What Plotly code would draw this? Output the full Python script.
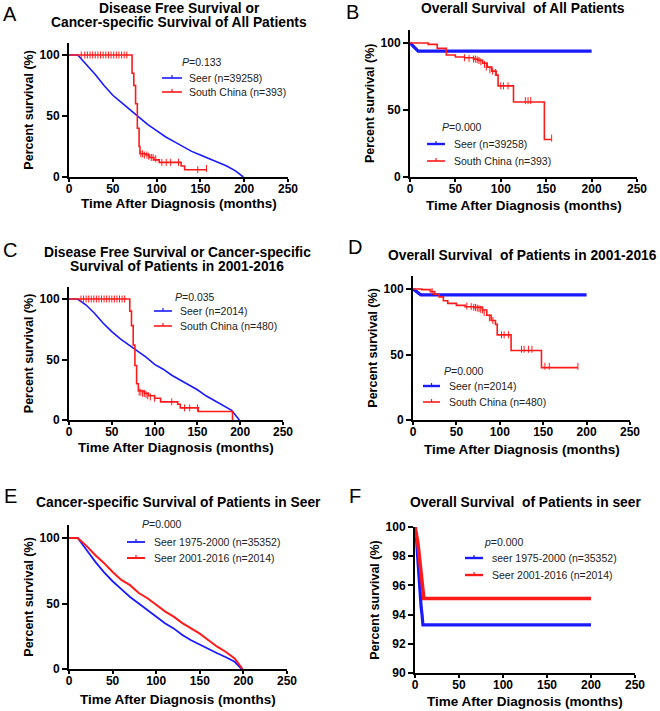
import plotly.graph_objects as go

W, H = 660, 711
BLUE = "#1a1aff"
RED = "#ff1a1a"
FONT = "Liberation Sans, Arial, sans-serif"

# ---------------- data (months, percent survival) ----------------
# Panel A
a_seer_t = [0, 10, 20, 30, 40, 50, 60, 70, 80, 90, 100, 110, 120, 130, 140, 150, 160, 170, 180, 190, 199]
a_seer_s = [100, 100, 92, 84, 75, 67, 61, 55, 49, 43, 38, 33, 29, 25, 21, 18, 15, 12, 9, 5, 0]
a_sc_t = [0, 70, 72, 74, 76, 78, 80, 81, 88, 92, 97, 103, 126, 128, 132, 157]
a_sc_s = [100, 100, 85, 75, 60, 40, 25, 19, 18, 16, 14, 12, 12, 9, 6, 6]
a_cens_t = [14, 18, 21, 24, 27, 30, 33, 36, 39, 42, 45, 48, 51, 54, 57, 60, 63, 66,
            82, 84, 86, 89, 91, 94, 96, 99, 106, 111, 116, 125, 147, 157]
a_cens_s = [100] * 18 + [19, 19, 18, 18, 17, 16, 16, 15, 12, 12, 12, 12, 6, 7]

# Panel B
b_seer_t = [0, 9, 200]
b_seer_s = [100, 94, 94]
b_sc_t = [0, 10, 20, 30, 40, 50, 60, 70, 75, 80, 85, 90, 95, 97, 113, 114, 147, 148, 156]
b_sc_s = [100, 100, 99, 96, 91, 89.5, 89, 88, 87, 85, 82, 79, 76, 68, 68, 56, 56, 28, 28]
b_cens_t = [60, 65, 70, 72, 74, 76, 78, 82, 84, 88, 91, 94, 100, 103, 108, 127, 130, 133, 156]
b_cens_s = [89, 88.5, 88, 88, 87.5, 87, 86, 84, 82, 80, 79, 78, 68, 68, 68, 57, 57, 57, 29]

# Panel C
c_seer_t = [0, 10, 20, 30, 40, 50, 60, 70, 80, 90, 100, 110, 120, 130, 140, 150, 160, 170, 180, 190, 199]
c_seer_s = [100, 100, 95, 88, 80, 73, 67, 62, 57, 52, 46, 42, 37, 33, 29, 25, 20, 16, 12, 8, 0]
c_sc_t = [0, 69, 71, 73, 75, 77, 79, 81, 88, 93, 100, 107, 127, 130, 151, 190, 191]
c_sc_s = [100, 100, 90, 78, 62, 45, 30, 24, 22, 20, 18, 15, 13, 10, 7, 7, 0]
c_cens_t = [14, 17, 20, 23, 26, 29, 32, 35, 38, 41, 44, 47, 50, 53, 56, 59, 62, 65,
            82, 84, 86, 88, 90, 92, 95, 100, 120, 135, 141, 150]
c_cens_s = [100] * 18 + [23, 23, 22, 22, 21, 20, 19, 18, 15, 10, 10, 10]

# Panel D
d_seer_t = [0, 9, 200]
d_seer_s = [100, 95.5, 95.5]
d_sc_t = [0, 10, 20, 25, 30, 35, 40, 50, 60, 70, 80, 85, 90, 95, 97, 112, 113, 147, 148, 190]
d_sc_s = [100, 99.5, 98, 96, 94, 91, 89, 87.5, 86.5, 86, 84, 80, 76, 73, 65, 65, 53, 53, 40, 40]
d_cens_t = [22, 62, 67, 70, 72, 74, 76, 78, 80, 82, 88, 92, 102, 105, 110, 125, 128, 133, 137, 152, 157, 190]
d_cens_s = [98, 87, 86.5, 86, 86, 85.5, 85, 84.5, 84, 82, 78, 76, 65, 65, 65, 54, 54, 54, 54, 41, 41, 41]

# Panel E
e_old_t = [0, 10, 20, 30, 40, 50, 60, 70, 80, 90, 100, 110, 120, 130, 140, 150, 160, 170, 180, 190, 198]
e_old_s = [100, 100, 91, 82, 74, 67, 61, 55, 50, 45, 40, 35, 31, 26, 22, 18.5, 15, 12, 9, 5.5, 0]
e_new_t = [0, 10, 20, 30, 40, 50, 60, 70, 80, 90, 100, 110, 120, 130, 140, 150, 160, 170, 180, 190, 199]
e_new_s = [100, 100, 94, 87, 81, 74, 68, 64, 58, 54, 49, 44, 40, 35, 31, 27, 22, 17, 13, 8, 0]

# Panel F
f_old_t = [0, 1, 2, 3, 4, 5, 6, 7, 8, 9, 200]
f_old_s = [100, 99.5, 99, 98, 97, 96.5, 95.5, 94.5, 94, 93.3, 93.3]
f_new_t = [0, 2, 3, 4, 5, 6, 7, 8, 9, 10, 200]
f_new_s = [100, 99.5, 99, 98.5, 98, 97.5, 96.5, 96, 95.5, 95.1, 95.1]

# ---------------- text ----------------
letters = ["A", "B", "C", "D", "E", "F"]
titles = [
    "Disease Free Survival or<br>Cancer-specific Survival of All Patients",
    "Overall Survival  of All Patients",
    "Disease Free Survival or Cancer-specific<br>Survival of Patients in 2001-2016",
    "Overall Survival  of Patients in 2001-2016",
    "Cancer-specific Survival of Patients in Seer",
    "Overall Survival  of Patients in seer",
]
p_texts = ["<i>P</i>=0.133", "<i>P</i>=0.000", "<i>P</i>=0.035", "<i>P</i>=0.000", "<i>P</i>=0.000", "<i>p</i>=0.000"]
legend_names = [
    ["Seer (n=39258)", "South China (n=393)"],
    ["Seer (n=39258)", "South China (n=393)"],
    ["Seer (n=2014)", "South China (n=480)"],
    ["Seer (n=2014)", "South China (n=480)"],
    ["Seer 1975-2000 (n=35352)", "Seer 2001-2016 (n=2014)"],
    ["seer 1975-2000 (n=35352)", "Seer 2001-2016 (n=2014)"],
]
x_title = "Time After Diagnosis (months)"
y_title = "Percent survival (%)"
x_ticks = [0, 50, 100, 150, 200, 250]

# ---------------- layout geometry (pixels) ----------------
# x0px, x250px, y_low_px, y_high_px, y_low_val, y_high_val(at y_high_px), range_top
geo = [
    (69, 288, 177, 55, 0, 100, 110),
    (410, 637, 177, 43, 0, 100, 110),
    (69, 283, 420, 299, 0, 100, 110),
    (413, 630, 420, 289, 0, 100, 110),
    (69, 287, 669, 538, 0, 100, 110),
    (415, 635, 673, 527, 90, 100, 100),
]
title_pos = [[(179, 8), (179, 23)], [(523, 9)], [(177, 252), (177, 266)], [(522, 255)], [(178, 503)], [(525, 503)]]
xtitle_y = [203.5, 205, 447.5, 449, 699, 701]
letter_pos = [(10, 14), (352, 12), (10, 250), (355, 247), (10, 496), (355, 496)]
p_pos = [(180, 62), (440, 127), (173, 297), (442, 371), (140, 524), (482, 542)]
leg_geo = [  # line x0, x1, y1, y2, text x
    (162, 182, 78, 92, 187),
    (427, 445, 144, 161, 452),
    (154, 172, 311, 326, 178),
    (423, 440, 386, 402, 447),
    (127, 145, 542, 558, 152),
    (465, 483, 558, 575, 490),
]
widths = [(1.6, 1.6), (3.2, 1.6), (1.6, 1.6), (3.2, 1.6), (1.8, 2.0), (3.2, 3.6)]


def px(x):
    return x / W


def py(y):
    return 1 - y / H


series = [
    ((a_seer_t, a_seer_s), (a_sc_t, a_sc_s), (a_cens_t, a_cens_s)),
    ((b_seer_t, b_seer_s), (b_sc_t, b_sc_s), (b_cens_t, b_cens_s)),
    ((c_seer_t, c_seer_s), (c_sc_t, c_sc_s), (c_cens_t, c_cens_s)),
    ((d_seer_t, d_seer_s), (d_sc_t, d_sc_s), (d_cens_t, d_cens_s)),
    ((e_old_t, e_old_s), (e_new_t, e_new_s), None),
    ((f_old_t, f_old_s), (f_new_t, f_new_s), None),
]

fig = go.Figure()
layout = dict(
    width=W, height=H, margin=dict(l=0, r=0, t=0, b=0, autoexpand=False),
    paper_bgcolor="white", plot_bgcolor="white", showlegend=False,
    font=dict(family=FONT, color="black"),
)
annotations = []
shapes = []

for i in range(6):
    k = "" if i == 0 else str(i + 1)
    xa, ya = "x" + k, "y" + k
    x0, x1, ylo, yhi, vlo, vhi, vtop = geo[i]
    scale = (ylo - yhi) / (vhi - vlo)
    ytop = ylo - (vtop - vlo) * scale
    (t1, s1), (t2, s2), cens = series[i]
    w1, w2 = widths[i]
    fig.add_trace(go.Scatter(x=t1, y=s1, mode="lines", line=dict(color=BLUE, width=w1, shape="linear"),
                             xaxis=xa, yaxis=ya, cliponaxis=False))
    shape2 = "hv" if i in (0, 1, 2, 3) else "linear"
    fig.add_trace(go.Scatter(x=t2, y=s2, mode="lines", line=dict(color=RED, width=w2, shape=shape2),
                             xaxis=xa, yaxis=ya, cliponaxis=False))
    if cens is not None:
        fig.add_trace(go.Scatter(x=cens[0], y=cens[1], mode="markers",
                                 marker=dict(symbol="line-ns", size=5, line=dict(color=RED, width=1)),
                                 xaxis=xa, yaxis=ya, cliponaxis=False))
    if i == 5:
        yticks = [90, 92, 94, 96, 98, 100]
    else:
        yticks = [0, 50, 100]
    axcommon = dict(showgrid=False, zeroline=False, showline=True, linecolor="black", linewidth=2,
                    ticks="outside", tickwidth=1.5, tickcolor="black", automargin=False,
                    tickfont=dict(family=FONT, size=12, color="black", weight="bold"))
    layout["xaxis" + k] = dict(axcommon, domain=[px(x0), px(x1)], range=[0, 250], tickvals=x_ticks,
                               anchor=ya, ticklen=3, ticklabelstandoff=-3)
    layout["yaxis" + k] = dict(axcommon, domain=[py(ylo), py(ytop)], range=[vlo, vtop], tickvals=yticks,
                               anchor=xa, ticklen=5, title=dict(text="<b>" + y_title + "</b>", standoff=3,
                                                     font=dict(family=FONT, size=12.5, color="black")))
    annotations.append(dict(text="<b>" + x_title + "</b>", x=px((x0 + x1) / 2), y=py(xtitle_y[i]),
                            xref="paper", yref="paper", showarrow=False, xanchor="center", yanchor="middle",
                            font=dict(family=FONT, size=13.5, color="black")))
    lines = titles[i].split("<br>")
    for (tx, ty), line in zip(title_pos[i], lines):
        annotations.append(dict(text="<b>" + line + "</b>", x=px(tx), y=py(ty), xref="paper", yref="paper",
                                showarrow=False, xanchor="center", yanchor="middle",
                                font=dict(family=FONT, size=13.8, color="black")))
    lx, ly = letter_pos[i]
    annotations.append(dict(text=letters[i], x=px(lx), y=py(ly), xref="paper", yref="paper", showarrow=False,
                            xanchor="center", yanchor="middle", font=dict(family=FONT, size=20, color="black")))
    ppx, ppy = p_pos[i]
    annotations.append(dict(text=p_texts[i], x=px(ppx), y=py(ppy), xref="paper", yref="paper", showarrow=False,
                            xanchor="left", yanchor="middle", font=dict(family=FONT, size=10.5, color="#222")))
    lx0, lx1, ly1, ly2, ltx = leg_geo[i]
    for name, yy, col, ww in ((legend_names[i][0], ly1, BLUE, min(w1, 2.4)), (legend_names[i][1], ly2, RED, min(w2, 2.4))):
        shapes.append(dict(type="line", xref="paper", yref="paper", x0=px(lx0), x1=px(lx1), y0=py(yy), y1=py(yy),
                           line=dict(color=col, width=ww)))
        xm = (lx0 + lx1) / 2
        shapes.append(dict(type="line", xref="paper", yref="paper", x0=px(xm), x1=px(xm), y0=py(yy - 3), y1=py(yy),
                           line=dict(color=col, width=1.2)))
        annotations.append(dict(text=name, x=px(ltx), y=py(yy), xref="paper", yref="paper", showarrow=False,
                                xanchor="left", yanchor="middle", font=dict(family=FONT, size=10.5, color="#222")))

layout["annotations"] = annotations
layout["shapes"] = shapes
fig.update_layout(**layout)
fig.write_html("out.html", config={"displayModeBar": False},
               post_script="document.body.style.margin='0';document.body.style.overflow='hidden';")
